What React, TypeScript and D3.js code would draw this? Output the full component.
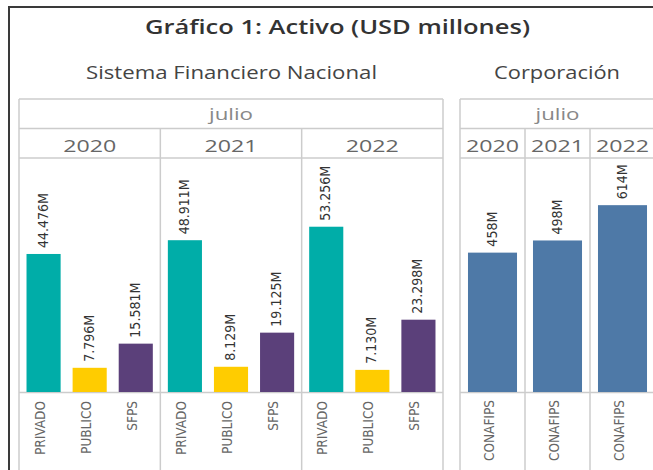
import React from "react";
import * as d3 from "d3";

// values in USD millions, month: julio
const years = ["2020", "2021", "2022"];
const sectors = ["PRIVADO", "PUBLICO", "SFPS"];
const privado = [44476, 48911, 53256];
const publico = [7796, 8129, 7130];
const sfps = [15581, 19125, 23298];
const corpCategory = "CONAFIPS";
const conafips = [458, 498, 614];
const monthLabel = "julio";

const width = 653;
const height = 470;

const sectorColors = d3
  .scaleOrdinal<string, string>()
  .domain(sectors)
  .range(["#00ada8", "#ffcc00", "#5b407a"]);
const corpColor = "#4e79a7";

const esFormat = d3.formatLocale({
  decimal: ",",
  thousands: ".",
  grouping: [3],
  currency: ["$", ""],
}).format(",");
const label = (v: number) => `${esFormat(v)}M`;

const gridColor = "#cccccc";
const condensed = "'DejaVu Sans Condensed', 'DejaVu Sans', sans-serif";
const headFont = "'Open Sans', sans-serif";

const top = 99;
const rowMid = 128.5;
const rowBottom = 158;
const baseY = 392;

const App = () => {
  const seriesBySector: Record<string, number[]> = {
    PRIVADO: privado,
    PUBLICO: publico,
    SFPS: sfps,
  };

  // Sistema Financiero Nacional
  const leftPanes = d3.scaleBand().domain(years).range([19, 443]);
  const leftInner = d3
    .scaleBand()
    .domain(sectors)
    .range([0, leftPanes.bandwidth()])
    .paddingInner(0.26)
    .paddingOuter(0.163);
  const leftY = d3.scaleLinear().domain([0, 75400]).range([baseY, rowBottom]);

  // Corporación
  const rightPanes = d3.scaleBand().domain(years).range([460, 655]);
  const rightInner = d3
    .scaleBand()
    .domain([corpCategory])
    .range([0, rightPanes.bandwidth()])
    .padding(0.14);
  const rightY = d3.scaleLinear().domain([0, 769]).range([baseY, rowBottom]);

  const table = (panes: d3.ScaleBand<string>, key: string) => {
    const [x0, x1] = panes.range();
    return (
      <g key={key} stroke={gridColor} strokeWidth={1.5} fill="none">
        <line x1={x0} x2={x1} y1={top} y2={top} />
        <line x1={x0} x2={x1} y1={rowMid} y2={rowMid} />
        <line x1={x0} x2={x1} y1={rowBottom} y2={rowBottom} />
        <line x1={x0} x2={x1} y1={baseY + 0.5} y2={baseY + 0.5} />
        <line x1={x0} x2={x0} y1={top} y2={height} />
        <line x1={x1} x2={x1} y1={top} y2={height} />
        {years.slice(1).map((y) => (
          <line key={y} x1={panes(y)!} x2={panes(y)!} y1={rowMid} y2={height} />
        ))}
      </g>
    );
  };

  const headers = (panes: d3.ScaleBand<string>, key: string) => {
    const [x0, x1] = panes.range();
    return (
      <g key={key} fontFamily={headFont} textAnchor="middle">
        <text
          x={(x0 + x1) / 2}
          y={120}
          fontSize={15.5}
          fill="#888"
          textLength={44}
          lengthAdjust="spacingAndGlyphs"
        >
          {monthLabel}
        </text>
        {years.map((y) => (
          <text
            key={y}
            x={panes(y)! + panes.bandwidth() / 2}
            y={152}
            fontSize={17}
            fill="#666"
            textLength={53}
            lengthAdjust="spacingAndGlyphs"
          >
            {y}
          </text>
        ))}
      </g>
    );
  };

  return (
    <svg
      width={width}
      height={height}
      style={{ position: "absolute", left: 0, top: 0, background: "#fff" }}
    >
      <rect x={9} y={7} width={700} height={500} fill="#fff" stroke="#3a3a3a" strokeWidth={2} />

      <text
        x={337.5}
        y={34}
        textAnchor="middle"
        fontFamily={headFont}
        fontWeight={600}
        fontSize={19}
        fill="#333"
        textLength={385}
        lengthAdjust="spacingAndGlyphs"
      >
        Gráfico 1: Activo (USD millones)
      </text>
      <text
        x={231.5}
        y={79}
        textAnchor="middle"
        fontFamily={headFont}
        fontSize={18}
        fill="#444"
        textLength={291}
        lengthAdjust="spacingAndGlyphs"
      >
        Sistema Financiero Nacional
      </text>
      <text
        x={557}
        y={79}
        textAnchor="middle"
        fontFamily={headFont}
        fontSize={18}
        fill="#444"
        textLength={126}
        lengthAdjust="spacingAndGlyphs"
      >
        Corporación
      </text>

      {table(leftPanes, "lt")}
      {table(rightPanes, "rt")}
      {headers(leftPanes, "lh")}
      {headers(rightPanes, "rh")}

      {/* left bars */}
      {years.map((yr, i) => (
        <g key={yr} transform={`translate(${leftPanes(yr)},0)`}>
          {sectors.map((s) => {
            const v = seriesBySector[s][i];
            const x = leftInner(s)!;
            const cx = x + leftInner.bandwidth() / 2;
            return (
              <g key={s}>
                <rect
                  x={x}
                  y={leftY(v)}
                  width={leftInner.bandwidth()}
                  height={leftY(0) - leftY(v)}
                  fill={sectorColors(s)}
                />
                <text
                  transform={`translate(${cx + 4},${leftY(v) - 6}) rotate(-90)`}
                  fontFamily={condensed}
                  fontStretch="condensed"
                  fontSize={14}
                  fill="#333"
                >
                  {label(v)}
                </text>
                <text
                  transform={`translate(${cx + 1},401) rotate(-90)`}
                  textAnchor="end"
                  fontFamily={condensed}
                  fontStretch="condensed"
                  fontSize={13.5}
                  fill="#666"
                >
                  {s}
                </text>
              </g>
            );
          })}
        </g>
      ))}

      {/* right bars */}
      {years.map((yr, i) => {
        const v = conafips[i];
        const x = rightInner(corpCategory)!;
        const cx = x + rightInner.bandwidth() / 2;
        return (
          <g key={yr} transform={`translate(${rightPanes(yr)},0)`}>
            <rect
              x={x}
              y={rightY(v)}
              width={rightInner.bandwidth()}
              height={rightY(0) - rightY(v)}
              fill={corpColor}
            />
            <text
              transform={`translate(${cx + 4},${rightY(v) - 6}) rotate(-90)`}
              fontFamily={condensed}
              fontStretch="condensed"
              fontSize={14}
              fill="#333"
            >
              {label(v)}
            </text>
            <text
              transform={`translate(${cx + 1},400) rotate(-90)`}
              textAnchor="end"
              fontFamily={condensed}
              fontStretch="condensed"
              fontSize={13.5}
              fill="#666"
            >
              {corpCategory}
            </text>
          </g>
        );
      })}
    </svg>
  );
};

export default App;
